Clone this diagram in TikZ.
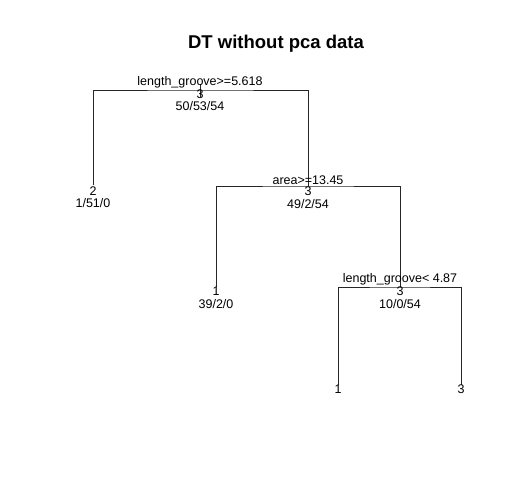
\documentclass[tikz,border=0pt]{standalone}
\usepackage{fontspec}
\setmainfont{Liberation Sans}
\begin{document}
\begin{tikzpicture}[x=1pt,y=-1pt,
  edge/.style={draw=black!85,line width=0.8pt},
  lbl/.style={anchor=base,inner sep=0pt,font=\fontsize{12.5}{14}\selectfont},
  ttl/.style={anchor=base,inner sep=0pt,font=\fontsize{18.5}{22}\selectfont\bfseries}]
\useasboundingbox (0,0) rectangle (516,496);
% branching points
\coordinate (r) at (200,90);
\coordinate (rtop) at (200,84);
\coordinate (rbot) at (200,97);
\coordinate (c2) at (93,185);
\coordinate (a) at (308,186);
\coordinate (c1) at (216,287);
\coordinate (b) at (400,287);
\coordinate (l1) at (338,385);
\coordinate (l3) at (461,385);
% title
\node[ttl] (title) at (276,48) {DT without pca data};
% connectors
\draw[edge] (rtop) -- (rbot);
\draw[edge] (c2) |- (r) -| (a);
\draw[edge] (c1) |- (a) -| (b);
\draw[edge] (l1) |- (b) -| (l3);
% root
\node[lbl] (rs) at ([shift={(0,-5)}]r) {length\_groove>=5.618};
\node[lbl] (rc) at ([shift={(0,8)}]r) {3};
\node[lbl] (rn) at ([shift={(0,20)}]r) {50/53/54};
% left leaf
\node[lbl] (c2c) at ([shift={(0,10)}]c2) {2};
\node[lbl] (c2n) at ([shift={(0,22)}]c2) {1/51/0};
% area split
\node[lbl] (as) at ([shift={(0,-2)}]a) {area>=13.45};
\node[lbl] (ac) at ([shift={(0,9)}]a) {3};
\node[lbl] (an) at ([shift={(0,22)}]a) {49/2/54};
% leaf 1
\node[lbl] (c1c) at ([shift={(0,8)}]c1) {1};
\node[lbl] (c1n) at ([shift={(0,21)}]c1) {39/2/0};
% third split
\node[lbl] (bs) at ([shift={(0,-5)}]b) {length\_groove< 4.87};
\node[lbl] (bc) at ([shift={(0,8)}]b) {3};
\node[lbl] (bn) at ([shift={(0,21)}]b) {10/0/54};
% leaves
\node[lbl] (l1c) at ([shift={(0,8)}]l1) {1};
\node[lbl] (l3c) at ([shift={(0,8)}]l3) {3};
\end{tikzpicture}
\end{document}
